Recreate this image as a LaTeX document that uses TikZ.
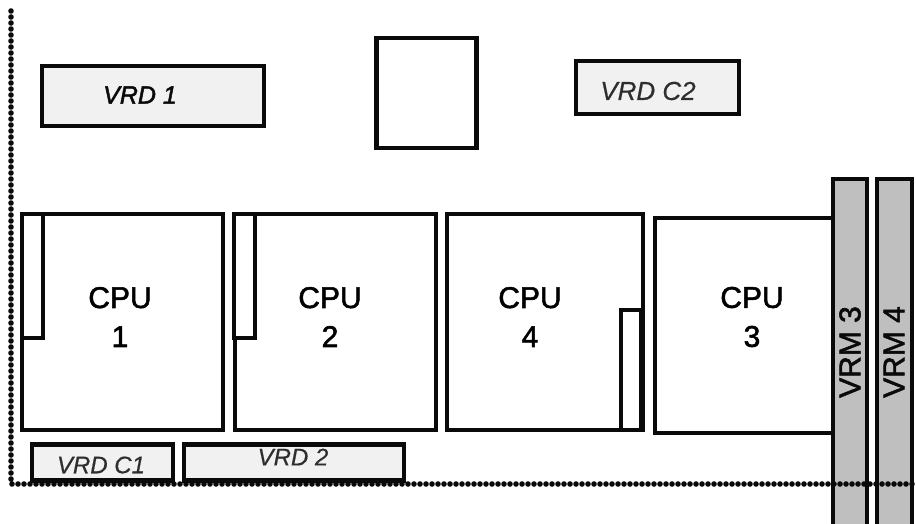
\documentclass[tikz,border=0pt]{standalone}
\usepackage{fontspec}
\setmainfont[FakeBold=1.8]{Liberation Sans}
\newfontfamily\thinlabelfont[FakeBold=0.5]{Liberation Sans}
\usetikzlibrary{positioning}
\definecolor{BoardBlack}{HTML}{0A0A0A}
\definecolor{RegGray}{HTML}{BFBFBF}
\definecolor{VrdFill}{HTML}{F1F1F1}
\definecolor{LabelGray}{HTML}{2E2E2E}
\tikzset{
  boardbox/.style={draw=BoardBlack, line width=4.4pt, inner sep=0pt, outer sep=0pt},
  cpubox/.style={boardbox, fill=white},
  cpulabel/.style={align=center, font=\fontsize{30}{39}\selectfont},
  slotbox/.style={boardbox, fill=white},
  vrdbox/.style={boardbox, fill=VrdFill},
  vrmbox/.style={boardbox, fill=RegGray},
  boardedge/.style={draw=BoardBlack, line width=5.6pt, line cap=round, dash pattern=on 0pt off 6pt},
  vrdlabel/.style={font=\fontsize{24}{28}\thinlabelfont\itshape, text=LabelGray},
  vrmlabel/.style={font=\fontsize{30}{34}\selectfont, text=BoardBlack, rotate=90}
}
\begin{document}
\begin{tikzpicture}[x=1pt, y=-1pt]
  \useasboundingbox (0,0) rectangle (916,523);

  % upper row
  \node[vrdbox, minimum width=222pt, minimum height=60pt] (vrd1) at (153,96) {};
  \node[vrdlabel, text=BoardBlack, font=\fontsize{25}{28}\selectfont\itshape] (vrd1label) at (140,95) {VRD 1};
  \node[boardbox, minimum width=100pt, minimum height=110pt] (blank) at (426.5,93) {};
  \node[vrdbox, minimum width=163pt, minimum height=53pt] (vrdc2) at (657.5,87.5) {};
  \node[vrdlabel, font=\fontsize{26}{30}\thinlabelfont\itshape] (vrdc2label) at (648,91) {VRD C2};

  % processors
  \node[cpubox, minimum width=201pt, minimum height=216pt] (cpu1) at (122.5,322) {};
  \node[cpubox, minimum width=201pt, minimum height=216pt] (cpu2) at (335.5,322) {};
  \node[cpubox, minimum width=196pt, minimum height=216pt] (cpu4) at (545,322) {};
  \node[cpubox, minimum width=190pt, minimum height=215pt] (cpu3) at (750,325.5) {};
  \node[cpulabel] (cpu1label) at (120,317) {CPU\\1};
  \node[cpulabel] (cpu2label) at (330,317) {CPU\\2};
  \node[cpulabel] (cpu4label) at (530,317) {CPU\\4};
  \node[cpulabel] (cpu3label) at (752,317) {CPU\\3};

  % sockets
  \node[slotbox, minimum width=21pt, minimum height=124pt] (slot1) at (32.5,276) {};
  \node[slotbox, minimum width=21pt, minimum height=124pt] (slot2) at (244.5,276) {};
  \node[slotbox, minimum width=20pt, minimum height=120pt] (slot4) at (631,370) {};

  % lower row
  \node[vrdbox, minimum width=141pt, minimum height=36pt] (vrdc1) at (102.5,462.5) {};
  \node[vrdlabel] (vrdc1label) at (101,465) {VRD C1};
  \node[vrdbox, minimum width=220pt, minimum height=36pt] (vrd2) at (294,462.5) {};
  \node[vrdlabel] (vrd2label) at (293,457) {VRD 2};

  % regulators
  \node[vrmbox, minimum width=34pt, minimum height=360pt] (vrm3) at (850,359) {};
  \node[vrmbox, minimum width=35pt, minimum height=360pt] (vrm4) at (894.5,359) {};
  \node[vrmlabel] (vrm3label) at (850,352) {VRM 3};
  \node[vrmlabel] (vrm4label) at (894,352) {VRM 4};

  % board outline
  \coordinate (edgetop) at (11,11);
  \coordinate (edgecorner) at (11,484);
  \coordinate (edgeright) at (916,484);
  \draw[boardedge] (edgetop) -- (edgecorner) -- (edgeright);
\end{tikzpicture}
\end{document}
